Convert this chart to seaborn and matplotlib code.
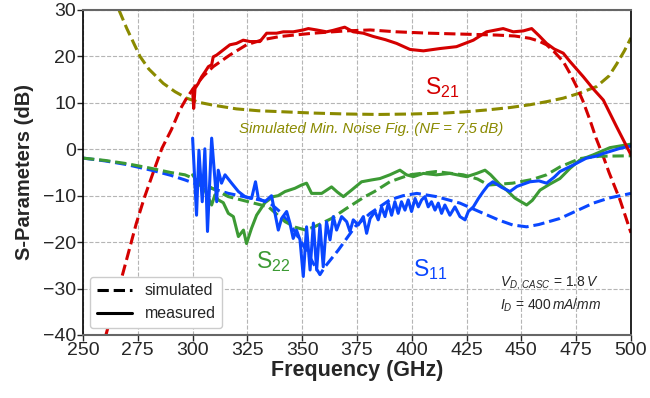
import matplotlib
matplotlib.use("Agg")
import matplotlib.pyplot as plt
import seaborn as sns
import pandas as pd
from matplotlib.lines import Line2D

# ---------------- data ----------------
nf_freq = [266.4, 270, 276, 280, 286.6, 292, 297.3, 303, 309.4, 320, 330, 340, 355, 370, 385,
           400, 415, 425, 435, 445, 454, 462, 469, 476, 484.3, 490, 493.4, 497, 500]
nf_val = [30, 26, 20, 17.3, 14.2, 12.4, 11.0, 10.1, 9.5, 8.7, 8.3, 8.1, 7.8, 7.6, 7.5,
          7.6, 7.8, 8.1, 8.5, 9.0, 9.6, 10.3, 11.0, 12.0, 13.5, 15.8, 18.3, 21.2, 24.0]

s21_sim_freq = [258, 260, 264, 268.2, 271, 274.3, 278, 282.7, 286, 290.3, 294.2, 297, 300.3, 305,
                309.4, 317, 324.6, 332, 340, 355, 370, 381, 393, 408, 423.5, 438.7, 447, 453.9,
                458, 461.5, 465, 469.1, 472, 475.2, 478, 481.3, 484, 487.4, 490, 495, 500]
s21_sim_val = [-44, -40.8, -33.8, -26.7, -21.8, -16, -10.4, -4.1, 0.2, 4.2, 8.5, 10.8, 13.1, 15.8,
               17.8, 20.3, 22.5, 23.6, 24.3, 25.0, 25.5, 25.7, 25.3, 25.0, 24.8, 24.6, 24.4, 23.9,
               23.3, 22.5, 21.0, 18.9, 16.5, 13.5, 10.5, 6.3, 2.5, -1.6, -5.0, -10.9, -18.0]

s21_meas_freq = [300, 300.5, 301.1, 302.6, 304.1, 305.7, 307.2, 308.7, 309.4, 311, 314, 317, 320,
                 323.1, 326.2, 330.7, 333.8, 338.3, 341.4, 345.9, 350.5, 352.8, 356.6, 361.1, 364,
                 369.4, 373.3, 377.9, 382.4, 388, 393.1, 399.2, 405.3, 412.9, 420.4, 428.1, 434.1,
                 441.7, 446.3, 450.9, 454.7, 458, 461.5, 465, 469.1, 472, 478.3, 482.8, 487.4,
                 493.4, 500]
s21_meas_val = [12.8, 8.8, 13.1, 14.2, 15.6, 16.7, 17.8, 18.2, 19.9, 20.3, 21.4, 22.5, 22.8,
                23.5, 23.2, 23.2, 25.0, 25.0, 25.3, 25.3, 25.7, 26.0, 25.7, 25.3, 25.6,
                26.3, 25.3, 25.0, 24.3, 23.6, 22.8, 21.5, 21.2, 21.7, 22.1, 23.5, 25.3,
                26.0, 25.3, 25.5, 26.0, 24.5, 22.8, 21.6, 20.7, 19.0, 15.6, 13.0, 10.6,
                4.9, -1.2]

s11_sim_freq = [250, 260, 270, 282, 290, 296.5, 300, 316.3, 334.6, 340, 345, 350, 355, 358.1,
                360.4, 366.5, 374.1, 381, 390, 396, 402.3, 411.3, 422, 432.6, 440, 446, 452.4,
                458, 467.6, 475, 482.8, 490, 500]
s11_sim_val = [-1.9, -2.5, -3.3, -4.6, -5.6, -6.6, -7.2, -9.5, -11.3, -13.5, -16.5, -20.3, -24.5,
               -27.0, -25.3, -21.7, -16.7, -13.8, -10.9, -10.0, -9.5, -10.2, -11.6, -13.8,
               -15.3, -16.3, -16.7, -16.2, -14.9, -13.3, -11.6, -10.5, -9.5]

s22_sim_freq = [250, 260, 270, 280, 290, 296.5, 300, 316.3, 334.6, 342.2, 347, 351.5, 356, 363.4,
                370, 378.6, 383, 390, 399, 411, 423.5, 430, 435, 446, 455, 461.5, 467.6, 476.7,
                485.8, 500]
s22_sim_val = [-1.9, -2.4, -3.1, -4.0, -5.0, -5.5, -6.2, -10.2, -12.4, -15.6, -16.8, -17.4, -16.6,
               -14.9, -12.8, -10.2, -9.1, -7.0, -5.5, -4.8, -5.5, -6.4, -7.7, -7.3, -6.5, -5.5,
               -3.8, -2.0, -1.5, -1.4]

s11_meas_freq = [300, 301.8, 302.9, 304.4, 305.6, 306.8, 308.7, 311, 311.7, 313.2, 314.8, 317.8,
                 320.9, 323.9, 326.9, 328.7, 330, 333, 336, 337.6, 339.1, 340.6, 342.9, 344.4,
                 345.9, 347.4, 349, 350.5, 352, 353.6, 355.1, 356.6, 358.1, 359.6, 361.1, 362.7,
                 364.2, 365.7, 368, 370.3, 371.8, 373.3, 375.6, 377.9, 379.4, 381, 383.2, 384.7,
                 386.2, 387.8, 389.3, 390.8, 392.3, 393.8, 395.3, 396.9, 398.4, 399.9, 401.5,
                 403, 404.5, 406, 407.5, 409, 410.6, 412.1, 413.6, 415.1, 417.4, 419.7, 422,
                 424.3, 425.8, 428.1, 430.4, 432.6, 434.9, 437, 441, 444.8, 448, 453.9, 458,
                 461.5, 465, 467.6, 473.6, 479.7, 484, 487.4, 495, 500]
s11_meas_val = [2.4, -14.2, -0.2, -11.3, 0.1, -17.7, 2.4, -11.3, -4.5, -7.3, -5.5, -7.3,
                -9.1, -10.2, -10.6, -7.0, -10.6, -11.3, -10.0, -13.8, -17.4, -14.9, -13.4, -15.9,
                -19.2, -17.4, -19.5, -27.4, -16.7, -26.0, -15.9, -26.0, -16.3, -25.3, -15.6, -19.5,
                -14.5, -17.4, -14.5, -15.6, -17.7, -15.2, -16.3, -14.5, -18.1, -14.9, -13.4, -15.2,
                -12.4, -14.5, -11.6, -14.2, -11.3, -13.8, -11.3, -13.1, -10.9, -13.4, -10.6,
                -12.4, -10.9, -10.2, -12.4, -11.3, -13.1, -11.6, -13.8, -12.0, -14.2, -12.4, -14.5,
                -15.2, -13.4, -12.4, -10.6, -9.1, -7.7, -7.0, -8.2, -9.1, -8.0, -7.0, -6.8,
                -7.3, -6.0, -4.8, -3.4, -1.9, -1.5, -0.9, 0.2, 0.7]

s22_meas_freq = [300, 301.1, 303, 305.6, 308.7, 310.2, 311.7, 314, 316.3, 318.6, 320.9, 323.2,
                 324.6, 326.9, 329.2, 333, 336.8, 339, 342.2, 346.7, 349.7, 352, 354.3, 358.9,
                 363.4, 366, 368.8, 372.5, 377.1, 381.7, 385.5, 390, 394.6, 397.6, 400.7, 405.3,
                 411.3, 417.4, 425, 429.6, 433.4, 436, 440, 443.3, 447, 452.4, 455, 458.5, 463,
                 467.6, 472.2, 476.7, 482.8, 490.4, 500]
s22_meas_val = [-5.5, -6.3, -7.5, -8.8, -12.0, -9.8, -10.9, -11.5, -13.8, -14.5, -18.8, -17.4,
                -20.3, -17.0, -14.2, -11.5, -10.2, -10.0, -9.1, -8.4, -7.7, -7.3, -9.5, -9.5,
                -8.1, -9.2, -10.2, -8.8, -7.0, -6.6, -6.3, -5.5, -4.5, -5.5, -5.9, -5.2,
                -5.5, -5.2, -5.9, -5.2, -4.5, -5.5, -7.5, -8.8, -10.5, -12.0, -11.0, -8.8, -7.5,
                -6.3, -4.1, -2.3, -1.2, 0.35, 1.1]

x_ticks = [250, 275, 300, 325, 350, 375, 400, 425, 450, 475, 500]
y_ticks = [-40, -30, -20, -10, 0, 10, 20, 30]

# ---------------- style ----------------
sns.set_style("ticks")
plt.rcParams['font.family'] = ['Liberation Sans', 'DejaVu Sans']
plt.rcParams['mathtext.fontset'] = 'custom'
plt.rcParams['mathtext.rm'] = 'Liberation Sans'
plt.rcParams['mathtext.it'] = 'Liberation Sans:italic'
plt.rcParams['mathtext.bf'] = 'Liberation Sans:bold'
plt.rcParams['axes.unicode_minus'] = True

RED = '#d40000'
BLUE = '#0a47ff'
GREEN = '#3c9a34'
OLIVE = '#8a8a00'
LW = 2.2

fig = plt.figure(figsize=(6.5, 3.98), dpi=100)
ax = fig.add_axes([0.1277, 0.1583, 0.843, 0.8166])


def draw(freq, val, color, dashed):
    df = pd.DataFrame({'f': freq, 'v': val})
    sns.lineplot(data=df, x='f', y='v', ax=ax, color=color, lw=LW,
                 linestyle='--' if dashed else '-', estimator=None, sort=False,
                 legend=False)


draw(nf_freq, nf_val, OLIVE, True)
draw(s21_sim_freq, s21_sim_val, RED, True)
draw(s11_sim_freq, s11_sim_val, BLUE, True)
draw(s22_sim_freq, s22_sim_val, GREEN, True)
draw(s22_meas_freq, s22_meas_val, GREEN, False)
draw(s11_meas_freq, s11_meas_val, BLUE, False)
draw(s21_meas_freq, s21_meas_val, RED, False)

ax.set_xlim(250, 500)
ax.set_ylim(-40, 30)
ax.set_xticks(x_ticks)
ax.set_yticks(y_ticks)
ax.tick_params(axis='both', labelsize=14, length=4, width=1, pad=1)
ax.grid(True, ls='--', color='#b5b5b5', lw=0.8)
ax.set_axisbelow(True)
for side in ['left', 'right']:
    ax.spines[side].set_color('black')
    ax.spines[side].set_linewidth(1.2)
for side in ['top', 'bottom']:
    ax.spines[side].set_color('#666666')
    ax.spines[side].set_linewidth(1.5)

ax.set_xlabel('Frequency (GHz)', fontsize=15.5, fontweight='bold', labelpad=1)
ax.set_ylabel('S-Parameters (dB)', fontsize=14.5, fontweight='bold', labelpad=6)

# annotations
ax.text(406, 13.2, r'$\mathrm{S}_{21}$', color=RED, fontsize=16.5, va='center', ha='left')
ax.text(329, -24.2, r'$\mathrm{S}_{22}$', color=GREEN, fontsize=16.5, va='center', ha='left')
ax.text(400.5, -25.8, r'$\mathrm{S}_{11}$', color=BLUE, fontsize=16.5, va='center', ha='left')
ax.text(381.4, 4.4, 'Simulated Min. Noise Fig. (NF = 7.5\u2009dB)', color=OLIVE, fontsize=10.8,
        style='italic', ha='center', va='center')
ax.text(440.2, -28.8, r'$V_{D,\,CASC}$ = 1.8$\,V$', fontsize=10, ha='left', va='center')
ax.text(440.2, -33.6, r'$I_D$ = 400$\,mA/mm$', fontsize=10, ha='left', va='center')

handles = [Line2D([], [], color='black', ls='--', lw=LW, label='simulated'),
           Line2D([], [], color='black', ls='-', lw=LW, label='measured')]
ax.legend(handles=handles, loc='lower left', fontsize=11.5, handlelength=2.2,
          borderaxespad=0.45, frameon=True, edgecolor='#cccccc', framealpha=1.0)

fig.savefig('out.png', dpi=100)
